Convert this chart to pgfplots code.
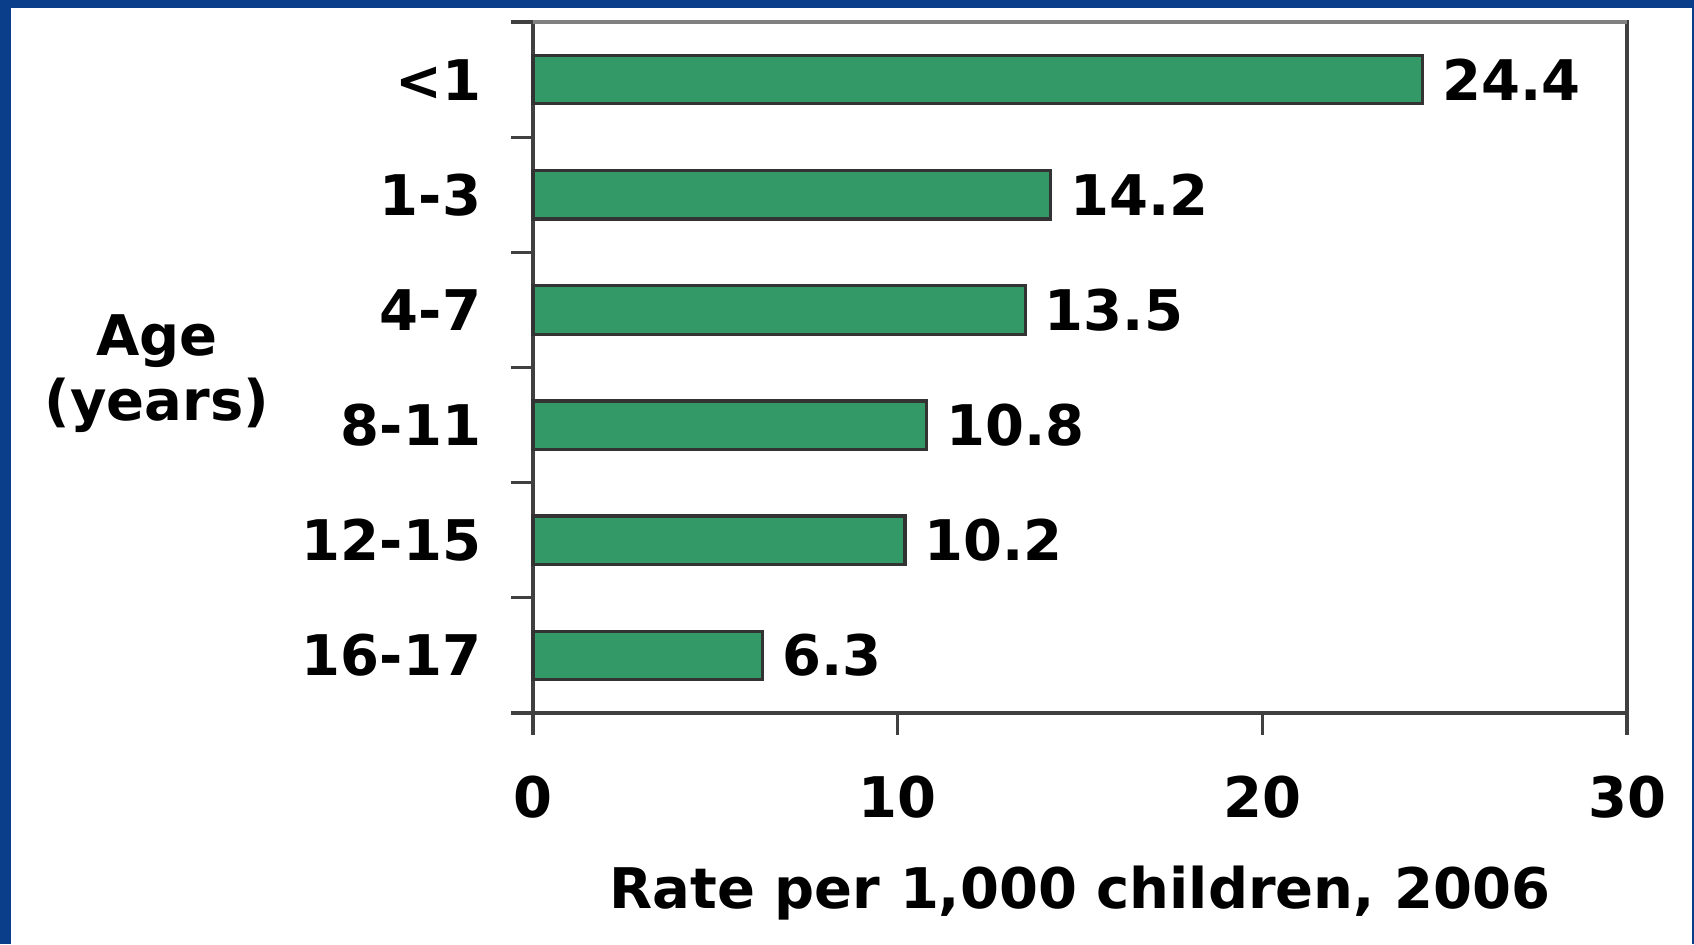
\documentclass[border=0pt]{standalone}
\usepackage{fontspec}
\setmainfont{DejaVu Sans}
\usepackage{pgfplots}
\pgfplotsset{compat=1.18}
\definecolor{barfill}{RGB}{51,153,102}
\definecolor{framecol}{RGB}{10,61,138}
\definecolor{axiscol}{RGB}{64,64,64}
\newcommand{\lbl}{\bfseries\fontsize{14}{17}\selectfont}
\begin{document}
\begin{tikzpicture}
\fill[framecol] (0pt,0pt) rectangle (423.5pt,236pt);
\fill[white] (2.75pt,0pt) rectangle (423pt,234pt);
\useasboundingbox (0pt,0pt) rectangle (423.5pt,236pt);
\begin{axis}[
  at={(133.25pt,57.75pt)}, anchor=south west,
  scale only axis, width=273.5pt, height=172.75pt,
  xbar, bar width=0.42,
  xmin=0, xmax=30, ymin=-0.5, ymax=5.5,
  xtick={0,10,20,30},
  ytick={-0.5,0.5,1.5,2.5,3.5,4.5,5.5},
  yticklabels={16-17,12-15,8-11,4-7,1-3,{<1},{}},
  yticklabel style={anchor=east, inner sep=0pt, yshift=14.4pt, xshift=-7.3pt, font=\lbl},
  xticklabel style={anchor=north, inner sep=0pt, yshift=-10pt, font=\lbl},
  tick align=outside, major tick length=5.5pt,
  xtick pos=bottom, ytick pos=left,
  tick style={draw=axiscol, line width=0.8pt},
  axis line style={draw=axiscol, line width=0.8pt},
  /pgf/number format/assume math mode=true,
  xlabel={Rate per 1,000 children, 2006},
  xlabel style={at={(axis description cs:0.5,0)}, anchor=base, yshift=-48.75pt, font=\lbl},
  nodes near coords,
  every node near coord/.append style={anchor=west, inner sep=0pt, xshift=4.5pt, font=\lbl, text=black},
  clip=false,
]
\addplot[fill=barfill, draw=black!80, line width=0.8pt] coordinates {
  (6.3,0) (10.2,1) (10.8,2) (13.5,3) (14.2,4) (24.4,5)
};
\draw[gray, line width=1pt] (rel axis cs:0,1) -- (rel axis cs:1,1);
\end{axis}
\node[font=\lbl, anchor=base] at (39.25pt,147pt) {Age};
\node[font=\lbl, anchor=base] at (39.25pt,130.75pt) {(years)};
\end{tikzpicture}
\end{document}
